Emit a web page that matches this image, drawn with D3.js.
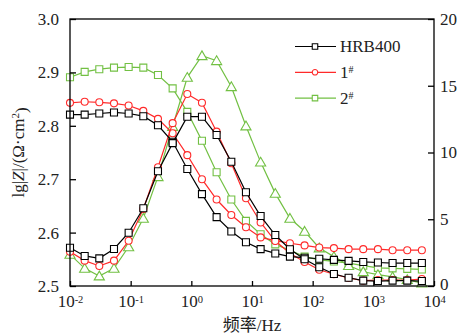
<!DOCTYPE html>
<html>
<head>
<meta charset="utf-8">
<script src="https://cdn.jsdelivr.net/npm/d3@7"></script>
<style>
  body { margin: 0; background: #fff; }
  svg { display: block; font-family: "Liberation Serif", "Times New Roman", serif; }
</style>
</head>
<body>
<svg id="chart" width="459" height="336"></svg>
<script>
// frequencies (Hz)
const freqs = [0.01, 0.01745, 0.0304, 0.0531, 0.0926, 0.1616, 0.282, 0.492, 0.858, 1.497,
  2.61, 4.56, 7.95, 13.87, 24.2, 42.2, 73.6, 128.4, 224, 391, 682, 1190, 2076, 3622, 6310];

// lg|Z| (left axis)
const magHRB = [2.821, 2.821, 2.823, 2.825, 2.823, 2.818, 2.801, 2.770, 2.719, 2.672, 2.629, 2.602, 2.582,
  2.569, 2.561, 2.555, 2.553, 2.551, 2.549, 2.547, 2.545, 2.544, 2.543, 2.543, 2.543];
const mag1 = [2.843, 2.845, 2.844, 2.842, 2.838, 2.828, 2.813, 2.786, 2.745, 2.700, 2.662, 2.633, 2.610,
  2.591, 2.585, 2.580, 2.576, 2.572, 2.571, 2.569, 2.569, 2.569, 2.567, 2.567, 2.567];
const mag2 = [2.891, 2.901, 2.906, 2.909, 2.910, 2.909, 2.895, 2.870, 2.826, 2.772, 2.713, 2.662, 2.622,
  2.597, 2.578, 2.567, 2.555, 2.549, 2.546, 2.543, 2.538, 2.534, 2.533, 2.532, 2.531];

// phase angle (right axis)
const phaseHRB = [2.87, 2.25, 2.07, 2.77, 3.99, 5.82, 8.6, 10.7, 12.68, 12.68, 11.31, 9.31, 7.02,
  5.24, 3.82, 2.75, 2.0, 1.40, 0.90, 0.62, 0.40, 0.37, 0.40, 0.40, 0.37];
const phase1 = [2.57, 1.90, 1.50, 1.90, 3.39, 5.77, 8.89, 12.2, 14.38, 13.73, 11.56, 9.19, 6.57,
  4.76, 3.37, 2.45, 1.8, 1.22, 0.88, 0.6, 0.4, 0.45, 0.45, 0.45, 0.52];
const phase2 = [2.37, 1.32, 0.75, 1.32, 2.94, 5.07, 8.19, 11.95, 15.63, 17.25, 16.88, 14.93, 11.99,
  9.28, 6.94, 5.07, 4.1, 2.85, 2.2, 1.53, 1.07, 0.85, 0.68, 0.48, 0.22];

const xTicks = [1e-2, 1e-1, 1e0, 1e1, 1e2, 1e3, 1e4];
const leftTicks = [2.5, 2.6, 2.7, 2.8, 2.9, 3.0];
const rightTicks = [0, 5, 10, 15, 20];
const seriesNames = ["HRB400", "1", "2"];

const black = "#000000", red = "#ff2a2a", green = "#72c043";

const margin = {top: 19, right: 25, bottom: 50, left: 70};
const svg = d3.select("#chart");
const W = +svg.attr("width"), H = +svg.attr("height");

const x = d3.scaleLog().domain([1e-2, 1e4]).range([margin.left, W - margin.right]);
const yL = d3.scaleLinear().domain([2.5, 3.0]).range([H - margin.bottom, margin.top]);
const yR = d3.scaleLinear().domain([0, 20]).range([H - margin.bottom, margin.top]);

const series = [
  {vals: mag2, y: yL, color: green, shape: "square"},
  {vals: phase2, y: yR, color: green, shape: "triangle"},
  {vals: mag1, y: yL, color: red, shape: "circle"},
  {vals: phase1, y: yR, color: red, shape: "circle"},
  {vals: magHRB, y: yL, color: black, shape: "square"},
  {vals: phaseHRB, y: yR, color: black, shape: "square"}
];

function markerPath(shape, s) {
  if (shape === "square") return d3.symbol(d3.symbolSquare, s * s)();
  if (shape === "circle") return d3.symbol(d3.symbolCircle, Math.PI * (s / 2) * (s / 2))();
  return d3.symbol(d3.symbolTriangle, s * s * 0.55)();
}

// series
series.forEach(s => {
  const pts = freqs.map((f, i) => [f, s.vals[i]]);
  const line = d3.line().x(d => x(d[0])).y(d => s.y(d[1]));
  const g = svg.append("g");
  g.append("path")
    .attr("d", line(pts))
    .attr("fill", "none")
    .attr("stroke", s.color)
    .attr("stroke-width", 1.2);
  g.selectAll("path.m").data(pts).enter().append("path")
    .attr("class", "m")
    .attr("d", markerPath(s.shape, s.shape === "triangle" ? 9 : 7))
    .attr("transform", d => `translate(${x(d[0])},${s.y(d[1]) + (s.shape === "triangle" ? 1 : 0)})`)
    .attr("fill", "#fff")
    .attr("stroke", s.color)
    .attr("stroke-width", 1.1);
});

// frame
svg.append("rect")
  .attr("x", margin.left).attr("y", margin.top)
  .attr("width", W - margin.left - margin.right)
  .attr("height", H - margin.top - margin.bottom)
  .attr("fill", "none").attr("stroke", "#000").attr("stroke-width", 1.3);

// axes
const xAxis = svg.append("g")
  .attr("transform", `translate(0,${H - margin.bottom})`)
  .call(d3.axisBottom(x).tickValues(xTicks).tickSizeInner(-5).tickSizeOuter(0).tickPadding(9)
    .tickFormat(() => ""));
xAxis.selectAll(".tick text").each(function (d) {
  const t = d3.select(this);
  t.append("tspan").text("10");
  t.append("tspan").attr("dy", "-0.42em").attr("font-size", "10.5px").text(Math.round(Math.log10(d)));
});

const leftAxis = svg.append("g")
  .attr("transform", `translate(${margin.left},0)`)
  .call(d3.axisLeft(yL).tickValues(leftTicks).tickSizeInner(-6).tickSizeOuter(0).tickPadding(11)
    .tickFormat(d3.format(".1f")));

const rightAxis = svg.append("g")
  .attr("transform", `translate(${W - margin.right},0)`)
  .call(d3.axisRight(yR).tickValues(rightTicks).tickSizeInner(-6).tickSizeOuter(0).tickPadding(6)
    .tickFormat(d3.format("d")));

[xAxis, leftAxis, rightAxis].forEach(a => {
  a.select(".domain").remove();
  a.selectAll(".tick line").attr("stroke", "#000").attr("stroke-width", 1.3);
  a.selectAll(".tick text")
    .attr("fill", "#222")
    .attr("font-size", "17px")
    .attr("font-family", "Liberation Serif, serif");
});
// the "0" on the right axis sits just above the 10^4 label
rightAxis.selectAll(".tick text").filter(d => d === 0).attr("dy", "0.2em");

// axis titles
const yTitle = svg.append("text")
  .attr("transform", `translate(24,${(margin.top + H - margin.bottom) / 2}) rotate(-90)`)
  .attr("text-anchor", "middle")
  .attr("font-size", "17px")
  .attr("fill", "#222");
yTitle.append("tspan").text("lg|");
yTitle.append("tspan").attr("font-style", "italic").text("Z");
yTitle.append("tspan").text("|/(Ω·cm");
yTitle.append("tspan").attr("dy", "-0.45em").attr("font-size", "11px").text("2");
yTitle.append("tspan").attr("dy", "0.45em").text(")");

svg.append("text")
  .attr("x", (margin.left + W - margin.right) / 2)
  .attr("y", 331)
  .attr("text-anchor", "middle")
  .attr("font-size", "17px")
  .attr("font-family", "Liberation Serif, Noto Sans CJK SC, serif")
  .attr("fill", "#222")
  .text("频率/Hz");

// legend
const legendColors = [black, red, green];
const legendShapes = ["square", "circle", "square"];
const legend = svg.append("g");
seriesNames.forEach((name, i) => {
  const ly = 46.5 + i * 25.8;
  legend.append("line")
    .attr("x1", 295).attr("x2", 336).attr("y1", ly).attr("y2", ly)
    .attr("stroke", legendColors[i]).attr("stroke-width", 1.2);
  legend.append("path")
    .attr("d", markerPath(legendShapes[i], 5.5))
    .attr("transform", `translate(315,${ly})`)
    .attr("fill", "#fff").attr("stroke", legendColors[i]).attr("stroke-width", 1.1);
  const t = legend.append("text")
    .attr("x", 340).attr("y", ly).attr("dy", "0.35em")
    .attr("font-size", "17px").attr("fill", "#222");
  t.append("tspan").text(name);
  if (i > 0) t.append("tspan").attr("dy", "-0.5em").attr("font-size", "10px").text("#");
});
</script>
</body>
</html>
